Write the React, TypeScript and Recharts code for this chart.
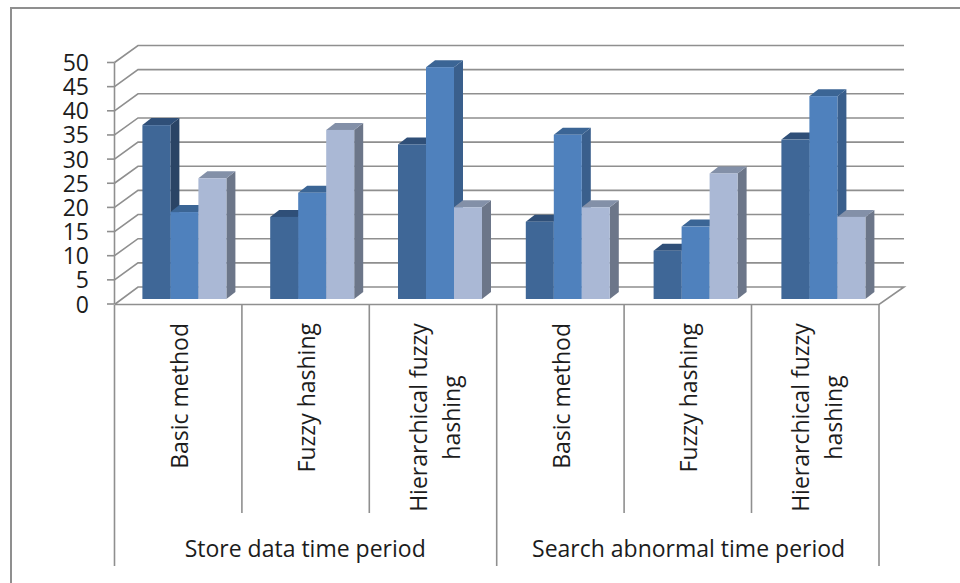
import React from "react";
import { BarChart, Bar, XAxis, YAxis, CartesianGrid } from "recharts";

const methods = ["Basic method", "Fuzzy hashing", "Hierarchical fuzzy hashing", "Basic method", "Fuzzy hashing", "Hierarchical fuzzy hashing"];
const periods = ["Store data time period", "Store data time period", "Store data time period", "Search abnormal time period", "Search abnormal time period", "Search abnormal time period"];
const seriesA = [36, 17, 32, 16, 10, 33];
const seriesB = [18, 22, 48, 34, 15, 42];
const seriesC = [25, 35, 19, 19, 26, 17];
const yTicks = [0, 5, 10, 15, 20, 25, 30, 35, 40, 45, 50];

const data = methods.map((m, i) => ({ method: m, period: periods[i], a: seriesA[i], b: seriesB[i], c: seriesC[i], id: i }));

const GRID = "#8f8f8f";
const FONT = "'Open Sans', sans-serif";
const TEXT = "#1c1c1c";
const TSIZE = 23;

const palettes = {
  a: { front: "#3f6797", top: "#2f4f78", side: "#2a4465" },
  b: { front: "#4f81bd", top: "#3b6595", side: "#3a5f8c" },
  c: { front: "#aab8d5", top: "#8390a8", side: "#6c7689" },
};

const bar3d = (pal: { front: string; top: string; side: string }) => (p: any) => {
  const { x, y, width: w, height: h } = p;
  const dx = 9;
  const dy = -7;
  return (
    <g>
      <polygon points={`${x + w},${y} ${x + w + dx},${y + dy} ${x + w + dx},${y + h + dy} ${x + w},${y + h}`} fill={pal.side} />
      <polygon points={`${x},${y} ${x + dx},${y + dy} ${x + w + dx},${y + dy} ${x + w},${y}`} fill={pal.top} />
      <rect x={x} y={y} width={w} height={h} fill={pal.front} />
    </g>
  );
};

const gridLine = (p: any) => {
  const { x1, x2, y1, index } = p;
  const fl = x1;
  const bl = x1 + 23.5;
  const br = x2 + 16.2;
  const fr = x2 - 8.8;
  const isBase = y1 > 295;
  const pts = isBase
    ? `${fl},${y1 + 5.5} ${bl},${y1 - 12} ${br},${y1 - 12} ${fr},${y1 + 5.5} ${fl},${y1 + 5.5}`
    : `${fl},${y1 + 5} ${bl},${y1 - 12} ${br},${y1 - 12}`;
  return <polyline key={`g${index}-${y1}`} points={pts} fill="none" stroke={GRID} strokeWidth={1.6} />;
};

const YTick = (p: any) => {
  const { y, payload } = p;
  return (
    <g>
      <line x1={107} x2={114.5} y1={y + 5} y2={y + 5} stroke={GRID} strokeWidth={1.6} />
      <text x={89} y={y + 13.5} textAnchor="end" fontFamily={FONT} fontSize={TSIZE} fill={TEXT}>
        {payload.value}
      </text>
    </g>
  );
};

const MethodTick = (p: any) => {
  const { x, index, payload } = p;
  const left = x - 70.4 - 0.4 * index;
  const right = x + 55.1;
  const cx = left + 63.7;
  const words = String(payload.value);
  const two = words.startsWith("Hierarchical");
  return (
    <g>
      <line x1={left} x2={left} y1={305} y2={index % 3 === 0 ? 566 : 513} stroke={GRID} strokeWidth={1.6} />
      {index === methods.length - 1 && <line x1={right} x2={right} y1={305} y2={566} stroke={GRID} strokeWidth={1.6} />}
      {two ? (
        <g fontFamily={FONT} fontSize={TSIZE} fill={TEXT} textAnchor="middle">
          <text transform={`translate(${cx - 6} 417.5) rotate(-90)`}>Hierarchical fuzzy</text>
          <text transform={`translate(${cx + 27} 417.5) rotate(-90)`}>hashing</text>
        </g>
      ) : (
        <text transform={`translate(${cx + 9.5} 323) rotate(-90)`} textAnchor="end" fontFamily={FONT} fontSize={TSIZE} fill={TEXT}>
          {words}
        </text>
      )}
    </g>
  );
};

const PeriodTick = (p: any) => {
  const { x, index, payload } = p;
  if (index % 3 !== 1) return <g />;
  return (
    <text x={x - 7.5} y={557} textAnchor="middle" fontFamily={FONT} fontSize={TSIZE} fill={TEXT}>
      {payload.value}
    </text>
  );
};

export default function App() {
  return (
    <div style={{ position: "absolute", left: 0, top: 0, width: 960, height: 583, background: "#fff", overflow: "hidden" }}>
      <div style={{ position: "absolute", left: 10, top: 7, width: 950, height: 576, borderTop: `2px solid ${GRID}`, borderLeft: `2px solid ${GRID}`, boxSizing: "border-box" }} />
      <div style={{ position: "absolute", left: 0, top: 0 }}>
        <BarChart
          width={960}
          height={583}
          data={data}
          margin={{ top: 57.5, right: 72.2, bottom: 0, left: 0 }}
          barCategoryGap={21.4}
          barGap={0}
        >
          <CartesianGrid vertical={false} horizontal={gridLine} syncWithTicks />
          <XAxis
            dataKey="method"
            height={210}
            interval={0}
            tickLine={false}
            axisLine={false}
            padding={{ left: 6.5, right: 0 }}
            tick={MethodTick}
          />
          <XAxis
            xAxisId="group"
            dataKey="period"
            height={74}
            interval={0}
            tickLine={false}
            axisLine={false}
            padding={{ left: 6.5, right: 0 }}
            tick={PeriodTick}
          />
          <YAxis
            width={114.5}
            domain={[0, 50]}
            ticks={yTicks}
            interval={0}
            tickLine={false}
            axisLine={{ stroke: GRID, strokeWidth: 1.6, transform: "translate(0 5)" }}
            tick={YTick}
          />
          <Bar dataKey="a" isAnimationActive={false} shape={bar3d(palettes.a)} />
          <Bar dataKey="b" isAnimationActive={false} shape={bar3d(palettes.b)} />
          <Bar dataKey="c" isAnimationActive={false} shape={bar3d(palettes.c)} />
        </BarChart>
      </div>
    </div>
  );
}
